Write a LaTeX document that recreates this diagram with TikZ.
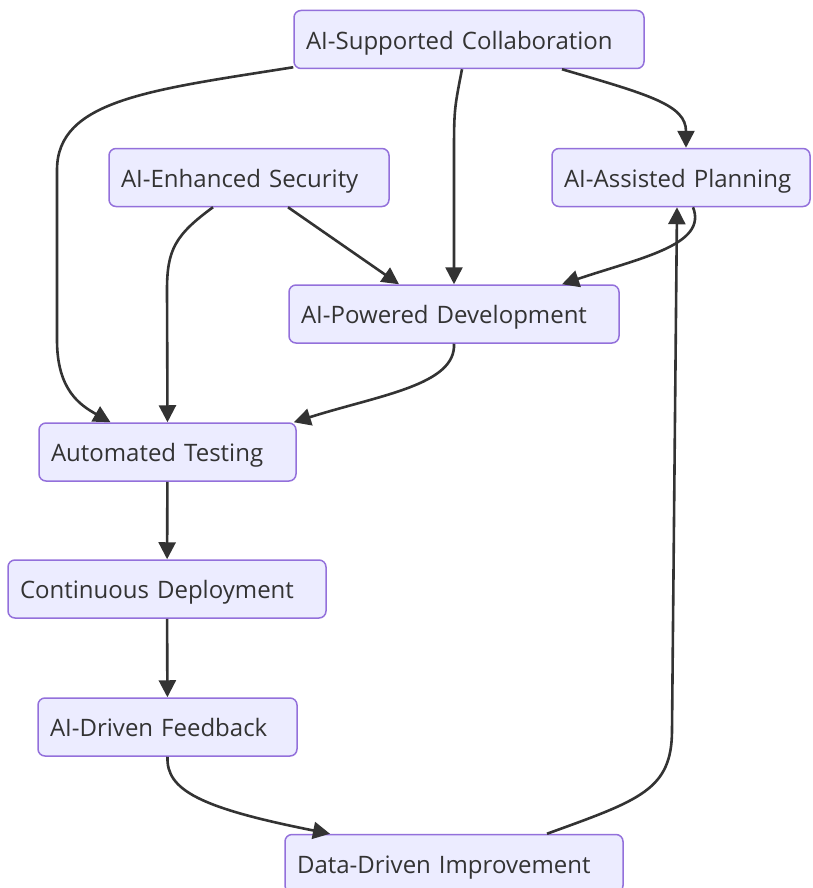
\documentclass[tikz,border=0pt]{standalone}
\usepackage{fontspec}
\setmainfont{Open Sans}
\usetikzlibrary{arrows.meta}
\definecolor{boxfill}{HTML}{ECECFF}
\definecolor{boxline}{HTML}{9370DB}
\definecolor{ink}{HTML}{333333}
\begin{document}
\begin{tikzpicture}[x=1pt, y=-1pt,
        box/.style={draw=boxline, fill=boxfill, line width=1.5pt, rounded corners=7pt,
            minimum height=58pt, inner xsep=12pt, align=left, text=ink,
            text height=22pt, text depth=2.5pt,
            font=\fontsize{24pt}{28pt}\selectfont},
        flow/.style={draw=ink, line width=2.6pt, -{Triangle[length=17pt, width=17pt]}}]
            \clip (0,0) rectangle (812,888);

            \node[box, text width=326pt] (collab) at (469, 39.5) {AI-Supported Collaboration};
            \node[box, text width=256pt] (security) at (249, 177.5) {AI-Enhanced Security};
            \node[box, text width=234pt] (planning) at (681, 177.5) {AI-Assisted Planning};
            \node[box, text width=306pt] (dev) at (454, 314) {AI-Powered Development};
            \node[box, text width=233pt] (testing) at (167.5, 452) {Automated Testing};
            \node[box, text width=294pt] (deploy) at (167, 589) {Continuous Deployment};
            \node[box, text width=235pt] (feedback) at (167.5, 727) {AI-Driven Feedback};
            \node[box, text width=314pt] (data) at (454, 863.5) {Data-Driven Improvement};

            \draw[flow] ([yshift=2pt]collab.south west) .. controls (150,90) and (57,100) .. (57,170)
                -- (57,340) .. controls (57,390) and (80,405) .. ([xshift=-57pt]testing.north);
            \draw[flow] ([xshift=-7pt]collab.south) .. controls (454,110) .. (454,160) -- (dev.north);
            \draw[flow] ([xshift=93pt]collab.south) .. controls (650,95) and (686,105) .. ([xshift=5pt]planning.north);
            \draw[flow] ([xshift=-36pt]security.south) .. controls (175,235) and (167,250) .. (167,290) -- (testing.north);
            \draw[flow] ([xshift=39pt]security.south) -- ([xshift=-55pt]dev.north);
            \draw[flow] ([xshift=12pt]planning.south) .. controls (708,245) and (640,258) .. ([xshift=108pt]dev.north);
            \draw[flow] (dev.south) .. controls (456,385) and (380,395) .. ([xshift=-3pt]testing.north east);
            \draw[flow] (testing) -- (deploy);
            \draw[flow] (deploy) -- (feedback);
            \draw[flow] (feedback.south) .. controls (166,790) and (200,808) .. ([xshift=-124pt]data.north);
            \draw[flow] ([xshift=93pt]data.north) .. controls (640,800) and (672,790) .. (672,730)
                -- ([xshift=-4pt]planning.south);
\end{tikzpicture}
\end{document}
